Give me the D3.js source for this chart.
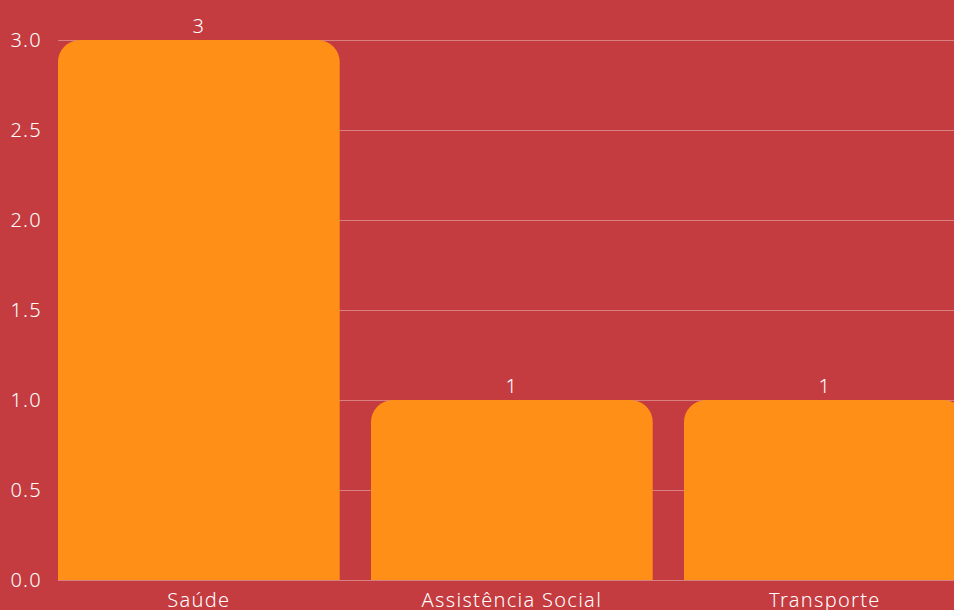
<!DOCTYPE html>
<html>
<head>
<meta charset="utf-8">
<script src="https://cdn.jsdelivr.net/npm/d3@7"></script>
<style>
  html, body { margin: 0; padding: 0; background: #C43B40; overflow: hidden; }
  svg { display: block; font-family: "Noto Sans", "Open Sans", sans-serif; }
</style>
</head>
<body>
<svg id="chart" width="954" height="610"></svg>
<script>
// Number of occurrences per category
const categories = ["Saúde", "Assistência Social", "Transporte"];
const values = [3, 1, 1];
const yTicks = [0, 0.5, 1, 1.5, 2, 2.5, 3];

const W = 954, H = 610;
const margin = { left: 58, top: 40, bottom: 30 };
const plotBottom = H - margin.bottom;
const textStyle = sel => sel
  .attr("fill", "#FFFFFF")
  .attr("font-size", 20)
  .attr("font-weight", 300)
  .attr("letter-spacing", 1.3)
  .attr("font-family", "\"Noto Sans\", sans-serif");

const svg = d3.select("#chart");
svg.append("rect").attr("width", W).attr("height", H).attr("fill", "#C43B40");

const x = d3.scaleBand()
  .domain(categories)
  .range([margin.left, margin.left + 313 * 2.9])
  .paddingInner(0.1)
  .paddingOuter(0);

const y = d3.scaleLinear().domain([0, 3]).range([plotBottom, margin.top]);

// Horizontal grid lines
svg.append("g")
  .selectAll("line")
  .data(yTicks)
  .join("line")
  .attr("x1", margin.left)
  .attr("x2", W)
  .attr("y1", d => Math.round(y(d)) + 0.5)
  .attr("y2", d => Math.round(y(d)) + 0.5)
  .attr("stroke", "rgba(255,255,255,0.35)")
  .attr("stroke-width", 1);

// Y axis labels
const yAxis = d3.axisLeft(y).tickValues(yTicks).tickFormat(d3.format(".1f")).tickSize(0).tickPadding(16);
const gy = svg.append("g").attr("transform", `translate(${margin.left},0)`).call(yAxis);
gy.select(".domain").remove();
gy.selectAll("text").call(textStyle);

// Bars with rounded top corners
const r = 22;
function barPath(x0, w, yTop, yBot) {
  return `M${x0},${yBot}V${yTop + r}A${r},${r} 0 0 1 ${x0 + r},${yTop}H${x0 + w - r}A${r},${r} 0 0 1 ${x0 + w},${yTop + r}V${yBot}Z`;
}
const bars = categories.map((c, i) => ({ c, v: values[i] }));
svg.append("g")
  .selectAll("path")
  .data(bars)
  .join("path")
  .attr("d", d => barPath(x(d.c), x.bandwidth(), y(d.v), y(0)))
  .attr("fill", "#FF8F16");

// Value labels above bars
svg.append("g")
  .selectAll("text")
  .data(bars)
  .join("text")
  .attr("x", d => x(d.c) + x.bandwidth() / 2)
  .attr("y", d => y(d.v) - 7)
  .attr("text-anchor", "middle")
  .call(textStyle)
  .text(d => d.v);

// Category labels
const xAxis = d3.axisBottom(x).tickSize(0).tickPadding(13);
const gx = svg.append("g").attr("transform", `translate(0,${plotBottom})`).call(xAxis);
gx.select(".domain").remove();
gx.selectAll("text").call(textStyle);
</script>
</body>
</html>
